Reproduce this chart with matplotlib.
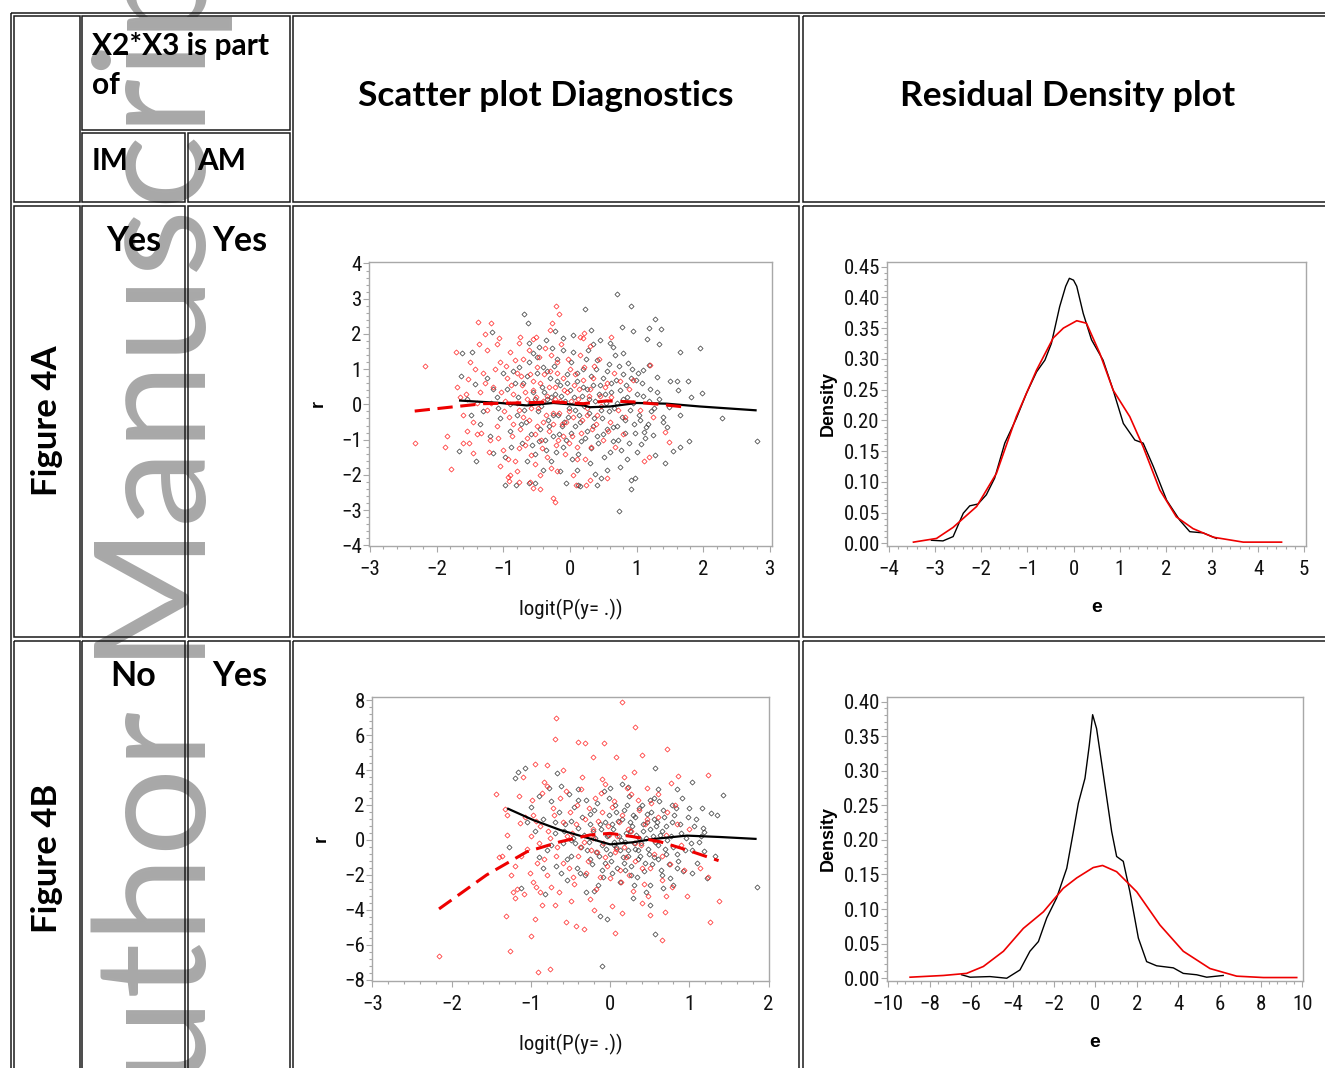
import matplotlib
matplotlib.use("Agg")
import matplotlib.pyplot as plt
import matplotlib.patches as patches
from matplotlib import font_manager
from matplotlib.ticker import AutoMinorLocator, FormatStrFormatter

# ---- table text ----
col_header = ["X2*X3 is part", "of"]
sub_headers = ["IM", "AM"]
panel_titles = ["Scatter plot Diagnostics", "Residual Density plot"]
row_labels = ["Figure 4A", "Figure 4B"]
im_answers = ["Yes", "No"]
am_answers = ["Yes", "Yes"]

# ---- Figure 4A scatter (logit vs r) ----
a_black_pts = [
    (0.70, 3.13), (0.91, 2.78), (0.23, 2.72), (-0.69, 2.56), (-0.63, 2.32), (1.27, 2.43), (1.36, 2.15),
    (1.19, 2.17), (0.78, 2.21), (0.95, 2.09), (1.95, 1.61), (1.65, 1.49), (1.34, 1.70), (1.15, 1.86),
    (-1.17, 2.06), (-1.47, 1.50), (-1.62, 1.47), (-1.64, 0.80), (-1.42, 0.57), (-1.67, -1.31), (-1.41, -1.60),
    (-1.16, -1.38), (-0.97, -2.30), (-0.81, -2.30), (-0.62, -2.24), (-0.53, -2.22), (-0.06, -2.24), (0.12, -2.30),
    (0.15, -2.31), (0.37, -1.98), (0.41, -2.30), (0.47, -2.08), (0.75, -1.77), (0.92, -2.15), (0.91, -2.41),
    (0.97, -2.10), (0.73, -3.03), (1.27, -1.45), (1.43, -1.66), (1.54, -1.31), (1.65, -1.22), (1.78, -1.03),
    (1.65, -0.30), (1.82, 0.21), (1.98, 0.33), (2.28, -0.39), (2.80, -1.03), (1.62, 0.42), (1.50, 0.66),
    (1.61, 0.66), (1.77, 0.66), (1.49, -0.08), (1.39, -0.50), (1.46, -0.63), (1.25, -0.87), (1.17, -0.55),
    (1.11, -0.77), (1.06, -1.12), (1.00, -1.36), (1.10, 0.97), (1.19, 1.11), (1.30, 0.78), (0.99, 0.69),
    (0.87, 1.18), (0.80, 1.45), (0.65, 1.64), (0.45, 1.83), (0.32, 2.11), (0.05, 1.97), (-0.11, 1.88),
    (-0.22, 2.07), (-0.36, 1.83), (-0.46, 1.64), (-0.61, 1.75),
    (-0.95, 0.45), (-0.90, -0.75), (-0.85, 0.95), (-0.80, -0.30), (-0.78, 0.20), (-0.72, -1.10), (-0.70, 0.60),
    (-0.66, -0.50), (-0.62, 1.20), (-0.60, 0.05), (-0.58, -0.85), (-0.55, 0.35), (-0.52, -1.40), (-0.50, 0.90),
    (-0.48, -0.20), (-0.45, -0.70), (-0.42, 0.50), (-0.40, 1.05), (-0.38, -1.00), (-0.35, 0.15), (-0.33, -0.45),
    (-0.30, 0.75), (-0.28, -1.60), (-0.25, -0.90), (-0.22, 0.30), (-0.20, 1.30), (-0.18, -0.30), (-0.15, 0.55),
    (-0.12, -0.60), (-0.10, -1.20), (-0.08, 0.10), (-0.05, 0.85), (-0.03, -0.35), (0.00, 0.40), (0.02, -0.80),
    (0.05, 1.50), (0.07, -0.15), (0.10, 0.65), (0.12, -1.40), (0.15, -0.50), (0.18, 0.25), (0.20, 1.00),
    (0.22, -0.95), (0.25, 0.45), (0.28, -0.25), (0.30, -1.65), (0.32, 0.80), (0.35, -0.60), (0.38, 0.10),
    (0.40, 1.25), (0.42, -1.10), (0.45, 0.55), (0.48, -0.40), (0.50, -0.85), (0.52, 0.30), (0.55, 0.95),
    (0.58, -0.20), (0.60, -1.35), (0.62, 0.60), (0.65, -0.65), (0.68, 1.40), (0.70, 0.05), (0.72, -1.00),
    (0.75, 0.40), (0.78, -0.35), (0.80, 0.85), (0.83, -0.80), (0.86, 0.20), (0.90, -0.15), (0.93, 1.00),
    (0.96, -0.55), (1.00, 0.30), (1.04, -0.30), (1.08, 0.60), (1.12, -0.95), (1.18, 0.10), (1.22, -0.20),
    (1.30, 0.35), (-1.05, -0.40), (-1.10, 0.20), (-1.20, -0.90), (-1.25, 0.75), (-1.30, -0.20), (-1.55, 0.15),
    (-0.15, -1.90), (0.35, 1.70), (0.60, 1.75), (-0.40, -1.85), (0.85, -1.55), (-0.65, -1.60),
    (-0.90, 0.00), (-0.88, -1.20), (-0.83, 0.60), (-0.76, 1.05), (-0.74, -0.55), (-0.69, -0.15), (-0.64, 0.80),
    (-0.57, -1.15), (-0.53, 0.15), (-0.49, 1.35), (-0.46, -1.05), (-0.43, -0.05), (-0.39, 0.35), (-0.36, -1.30),
    (-0.34, 0.95), (-0.31, -0.60), (-0.29, 0.20), (-0.26, -0.30), (-0.24, 1.10), (-0.21, -1.35), (-0.19, 0.65),
    (-0.16, -0.85), (-0.13, 0.25), (-0.11, 1.55), (-0.09, -0.50), (-0.06, -1.00), (-0.04, 0.60), (-0.01, -0.10),
    (0.01, 1.20), (0.03, -1.55), (0.06, 0.20), (0.08, -0.60), (0.11, 0.90), (0.13, -0.30), (0.16, -1.05),
    (0.19, 0.50), (0.21, -0.05), (0.24, 1.30), (0.26, -0.75), (0.29, 0.15), (0.31, -1.25), (0.34, 0.55),
    (0.36, -0.40), (0.39, 1.00), (0.41, -0.90), (0.44, 0.30), (0.46, -0.15), (0.49, 0.75), (0.51, -1.50),
    (0.54, 0.05), (0.56, -0.70), (0.59, 1.15), (0.61, 0.35), (0.64, -1.05), (0.66, -0.10), (0.69, 0.70),
    (0.71, -0.60), (0.74, 1.10), (0.76, -1.30), (0.79, 0.15), (0.82, -0.45), (0.84, 0.55), (0.88, -1.10),
    (0.92, 0.75), (0.95, 0.05), (0.98, -0.80), (1.02, 0.90), (1.05, -0.45), (1.10, 0.25), (1.14, -0.65),
    (1.20, 0.45), (1.26, -0.10), (1.33, 0.15), (1.40, -0.35), (-1.00, 0.90), (-1.08, -0.10), (-1.15, 0.45),
    (-0.97, -1.50), (-1.35, -0.55), (-1.48, -0.30), (0.27, 1.55), (-0.27, 1.60), (0.10, -1.85), (0.55, -1.85),
    (-0.55, 1.45),
]
a_red_pts = [
    (-2.17, 1.10), (-2.33, -1.10), (-1.87, -1.22), (-1.79, -1.84), (-1.85, -0.89), (-1.71, 1.50), (-1.38, 2.33),
    (-1.19, 2.30), (-1.06, 1.88), (-1.36, 1.70), (-1.53, 0.73), (-1.56, 0.30), (-1.61, -1.10), (-1.51, -1.10),
    (-1.46, -1.39), (-1.39, -0.84), (-0.93, -2.06), (-0.91, -2.17), (-0.76, -2.20), (-0.56, -2.36), (-0.45, -2.39),
    (-0.25, -2.65), (-0.22, -2.76), (-0.21, 2.80), (-0.16, 2.56), (-0.27, 2.32), (-0.51, 1.92), (-0.76, 1.75),
    (0.20, 1.88), (0.21, 2.02), (0.62, 1.92), (0.30, -2.15), (0.24, -2.30), (0.09, -2.30), (0.56, -2.08),
    (1.11, -1.60), (1.19, -1.50), (1.49, -1.06), (1.42, -0.77), (1.20, 1.13), (0.95, 0.69), (1.05, -0.17),
    (1.25, -0.36),
    (-1.15, 0.50), (-1.10, -0.60), (-1.05, 1.20), (-1.00, -1.30), (-0.98, 0.10), (-0.95, 0.75), (-0.92, -0.35),
    (-0.90, 1.50), (-0.87, -0.90), (-0.85, 0.30), (-0.82, -1.60), (-0.80, 0.90), (-0.77, -0.15), (-0.75, -0.70),
    (-0.72, 0.55), (-0.70, 1.30), (-0.68, -1.15), (-0.65, 0.15), (-0.62, -0.45), (-0.60, 0.85), (-0.58, -1.45),
    (-0.55, 0.40), (-0.52, -0.85), (-0.50, 1.05), (-0.48, -0.10), (-0.45, 0.60), (-0.42, -1.25), (-0.40, -0.50),
    (-0.38, 1.60), (-0.35, 0.25), (-0.32, -0.75), (-0.30, 0.95), (-0.28, -1.80), (-0.25, -0.25), (-0.22, 0.50),
    (-0.20, 1.20), (-0.18, -1.00), (-0.15, 0.10), (-0.12, -0.55), (-0.10, 0.75), (-0.08, -1.40), (-0.05, 0.35),
    (-0.02, -0.20), (0.00, 1.00), (0.03, -0.90), (0.06, 0.55), (0.10, -1.20), (0.12, 0.15), (0.15, 1.40),
    (0.18, -0.45), (0.20, 0.70), (0.23, -1.55), (0.26, -0.10), (0.30, 0.45), (0.33, -0.70), (0.36, 1.10),
    (0.40, -0.30), (0.45, 0.25), (0.50, -1.00), (0.55, 0.60), (0.60, -0.50), (0.66, 0.90), (0.72, -0.15),
    (0.80, -0.85), (0.88, 0.45), (-1.25, -0.15), (-1.30, 0.90), (-1.20, -1.00), (-1.35, 0.35), (-1.45, -0.50),
    (-1.50, 1.20), (-1.60, -0.30), (-1.70, 0.50), (-1.25, 1.55), (-0.90, -2.00), (-0.60, -2.20), (-0.30, 2.10),
    (0.05, -2.00), (-1.05, -1.75), (-0.75, 1.90), (0.30, 1.65),
    (-1.18, 0.05), (-1.12, 1.00), (-1.08, -0.95), (-1.03, 0.35), (-0.99, -0.20), (-0.96, 1.10), (-0.93, -1.55),
    (-0.89, 0.55), (-0.86, -0.55), (-0.83, 1.25), (-0.79, 0.05), (-0.76, -1.25), (-0.73, 0.80), (-0.71, -0.35),
    (-0.67, 0.35), (-0.64, -0.95), (-0.61, 1.55), (-0.59, -0.10), (-0.56, 0.65), (-0.53, -1.70), (-0.51, 0.20),
    (-0.49, -0.60), (-0.46, 1.35), (-0.44, -1.00), (-0.41, 0.10), (-0.39, 0.85), (-0.36, -0.30), (-0.34, -1.50),
    (-0.31, 0.50), (-0.29, 1.40), (-0.26, -0.55), (-0.23, 0.15), (-0.21, -1.15), (-0.19, 0.90), (-0.16, -0.25),
    (-0.14, 1.70), (-0.11, -0.90), (-0.09, 0.40), (-0.06, -0.50), (-0.03, 1.30), (-0.01, -1.10), (0.02, 0.10),
    (0.05, -0.35), (0.08, 0.85), (0.11, -1.55), (0.14, 0.45), (0.17, -0.80), (0.21, 1.05), (0.25, -0.30),
    (0.28, 0.25), (0.32, -1.20), (0.35, 0.75), (0.39, -0.55), (0.43, 1.30), (0.47, -0.05), (0.52, 0.50),
    (0.57, -0.75), (0.62, 0.20), (0.68, -1.20), (0.75, 0.65), (0.83, -0.35), (-1.28, 0.60), (-1.33, -0.80),
    (-1.40, 0.05), (-1.42, 1.00), (-1.55, -0.75), (-1.65, 0.20), (-1.22, -1.35), (-1.10, 1.70), (-0.80, -1.90),
    (-0.55, 1.85), (-0.20, -1.90), (0.15, 1.90), (-1.28, 2.00), (-0.45, -2.00),
]
a_black_fit_x = [-1.665, -1.05, -0.65, -0.25, 0.20, 0.30, 0.60, 1.00, 1.45, 1.95, 2.80]
a_black_fit_y = [0.11, 0.04, -0.03, 0.04, -0.03, -0.08, -0.06, 0.04, 0.02, -0.06, -0.17]
a_red_fit_x = [-2.33, -1.80, -1.30, -0.80, -0.25, 0.20, 0.55, 0.95, 1.35, 1.75]
a_red_fit_y = [-0.19, -0.08, 0.02, 0.04, 0.07, 0.02, 0.10, 0.07, 0.00, -0.08]

# ---- Figure 4A residual density ----
a_dens_black_e = [-3.08, -2.83, -2.61, -2.39, -2.25, -2.07, -1.89, -1.71, -1.49, -1.24, -1.02, -0.80,
                  -0.62, -0.48, -0.30, -0.17, -0.09, 0.00, 0.07, 0.21, 0.39, 0.64, 0.86, 1.08, 1.33, 1.51,
                  1.73, 2.02, 2.30, 2.52, 2.81, 3.10]
a_dens_black_d = [0.005, 0.004, 0.011, 0.049, 0.061, 0.064, 0.079, 0.106, 0.163, 0.203, 0.244, 0.279,
                  0.298, 0.325, 0.385, 0.418, 0.431, 0.428, 0.418, 0.374, 0.331, 0.298, 0.249, 0.195, 0.168,
                  0.163, 0.125, 0.070, 0.038, 0.019, 0.017, 0.008]
a_dens_red_e = [-3.47, -2.97, -2.61, -2.10, -1.67, -1.24, -0.80, -0.44, -0.22, 0.07, 0.28, 0.57, 0.86,
                1.22, 1.51, 1.87, 2.23, 2.59, 3.03, 3.68, 4.51]
a_dens_red_d = [0.002, 0.008, 0.026, 0.060, 0.114, 0.206, 0.282, 0.334, 0.350, 0.362, 0.358, 0.309, 0.249,
                0.206, 0.157, 0.087, 0.043, 0.024, 0.010, 0.002, 0.002]

# ---- Figure 4B scatter ----
b_black_pts = [
    (-1.20, 3.52), (-1.16, 3.87), (-1.08, 4.13), (-1.28, -0.42), (-1.12, -2.76), (-0.82, -3.10), (-1.05, 1.05),
    (-0.67, 3.85), (-0.77, 2.99), (-0.10, -7.20), (-0.04, -4.53), (-0.13, -4.34), (0.57, -5.39), (0.57, 4.10),
    (0.23, 3.05), (1.04, 3.33), (1.42, 2.57), (1.28, 1.52), (1.35, 1.43), (1.16, 1.81), (1.19, 0.48),
    (1.19, -0.61), (1.33, -0.90), (1.22, -2.19), (1.04, -1.90), (0.84, -1.62), (1.85, -2.67), (0.67, -2.76),
    (0.51, -3.71), (0.29, -3.33), (0.19, -1.71), (0.91, 2.38), (0.78, 2.00), (0.51, 2.29),
    (-0.85, 1.2), (-0.8, -0.6), (-0.75, 2.2), (-0.7, 0.4), (-0.68, -1.5), (-0.65, 1.6), (-0.6, -0.2),
    (-0.57, 0.9), (-0.55, -2.3), (-0.52, 2.6), (-0.5, -0.9), (-0.47, 0.1), (-0.45, 1.9), (-0.42, -1.6),
    (-0.4, 0.7), (-0.37, -0.4), (-0.35, 1.3), (-0.32, -2.0), (-0.3, 2.3), (-0.27, -0.1), (-0.25, -1.1),
    (-0.22, 0.5), (-0.2, 1.7), (-0.18, -0.7), (-0.15, -2.6), (-0.13, 0.9), (-0.1, -0.3), (-0.08, 2.8),
    (-0.06, -1.3), (-0.04, 0.2), (-0.02, 1.4), (0.0, -0.8), (0.02, -1.9), (0.04, 0.6), (0.06, 2.0),
    (0.08, -0.4), (0.1, 1.1), (0.12, -2.4), (0.14, 0.0), (0.16, -1.0), (0.18, 1.7), (0.2, 0.4),
    (0.22, -0.6), (0.24, 2.5), (0.26, -1.5), (0.28, 0.8), (0.3, -0.2), (0.32, 1.3), (0.34, -2.1),
    (0.36, 0.1), (0.38, -0.9), (0.4, 2.0), (0.42, 0.5), (0.44, -1.3), (0.46, 1.0), (0.48, -0.5),
    (0.5, -2.6), (0.52, 1.6), (0.54, 0.2), (0.56, -1.0), (0.58, 0.8), (0.6, -0.3), (0.62, 2.2),
    (0.64, -1.7), (0.66, 0.5), (0.68, 1.3), (0.7, -0.8), (0.72, 0.0), (0.75, -2.2), (0.78, 1.0),
    (0.8, -0.4), (0.83, 1.8), (0.86, -1.2), (0.9, 0.4), (0.94, -0.6), (0.98, 1.3), (1.02, -0.2),
    (1.06, 0.8), (1.1, -1.3), (1.15, 0.2), (-0.95, 0.5), (-0.9, -1.0), (-1.0, 1.9), (-0.62, 3.1),
    (-0.3, -3.0), (0.15, 3.2), (0.45, -3.0), (0.85, 2.9), (-0.5, 0.0), (0.05, -0.1), (0.35, -0.6),
    (-0.25, 0.9), (0.25, 1.0), (0.55, 1.2), (-0.1, -1.7),
    (-0.58, 0.5), (-0.54, -1.1), (-0.49, 1.1), (-0.44, -0.2), (-0.41, 2.3), (-0.38, -1.9), (-0.33, 0.3),
    (-0.29, -0.6), (-0.26, 1.5), (-0.23, -1.4), (-0.19, 0.1), (-0.16, 2.1), (-0.14, -0.9), (-0.11, 0.6),
    (-0.09, -2.1), (-0.07, 1.0), (-0.05, -0.5), (-0.03, 0.3), (-0.01, 2.4), (0.01, -1.2), (0.03, 0.9),
    (0.05, -0.3), (0.07, 1.6), (0.09, -1.6), (0.11, 0.2), (0.13, -0.6), (0.15, 1.2), (0.17, -1.3),
    (0.19, -0.1), (0.21, 2.0), (0.23, -0.9), (0.25, 0.5), (0.27, -2.0), (0.29, 1.4), (0.31, -0.5),
    (0.33, 0.3), (0.35, -1.1), (0.37, 1.8), (0.39, -0.2), (0.41, 0.9), (0.43, -1.8), (0.45, 0.1),
    (0.47, 1.5), (0.49, -0.8), (0.51, 0.6), (0.53, -1.4), (0.55, 2.4), (0.57, -0.1), (0.59, 1.0),
    (0.61, -1.1), (0.63, 0.3), (0.65, -2.0), (0.67, 1.7), (0.69, -0.5), (0.71, 0.8), (0.74, -1.4),
    (0.77, 0.2), (0.81, 1.4), (0.85, -0.8), (0.88, 0.9), (0.92, -1.8), (0.96, 0.1), (1.0, 1.8),
    (1.04, -0.6), (1.08, 1.2), (1.12, -0.1), (1.17, 0.7), (-0.62, -1.9), (-0.7, 1.0), (-0.75, -0.3),
    (-0.9, 2.5), (-0.85, -1.6), (-0.4, 2.9), (0.3, -2.6), (0.6, 2.9), (0.0, 3.0), (-0.2, -2.9), (0.8, -2.6),
]
b_red_pts = [
    (0.15, 7.90), (-0.68, 6.95), (0.31, 6.48), (-0.70, 5.75), (-0.41, 5.62), (-0.32, 5.56), (-0.08, 5.52),
    (0.72, 5.18), (-0.95, 4.34), (-0.80, 4.29), (0.40, 4.86), (0.08, 4.76), (-0.21, 4.76), (1.24, 3.71),
    (0.86, 3.68), (-1.44, 2.63), (-1.33, 1.77), (-1.36, -0.90), (-1.31, -4.32), (-1.27, -6.34), (-2.16, -6.61),
    (-1.00, -5.47), (-0.91, -7.52), (-0.76, -7.39), (-0.56, -4.70), (-0.43, -4.90), (-0.33, -5.10), (0.06, -5.30),
    (0.15, -4.19), (0.65, -5.71), (0.69, -4.10), (0.97, -3.18), (1.26, -4.70), (1.37, -3.49), (1.24, -2.13),
    (1.14, -1.58), (-1.22, -2.99), (-1.20, -3.30), (-1.09, -3.10), (-0.93, -2.67), (-0.89, -2.95), (-0.86, -3.71),
    (-0.70, -3.71), (-1.01, -1.90), (-1.14, 0.95), (-0.97, 1.43), (0.46, 2.95), (0.77, 3.24),
    (-1.05, -0.5), (-0.98, 2.3), (-0.92, -1.3), (-0.88, 0.8), (-0.84, 3.3), (-0.8, -2.0), (-0.76, 0.1),
    (-0.72, 1.8), (-0.68, -0.9), (-0.64, -3.0), (-0.6, 1.0), (-0.56, 2.8), (-0.52, -1.6), (-0.48, 0.4),
    (-0.45, -2.5), (-0.42, 2.0), (-0.38, -0.4), (-0.35, 3.6), (-0.32, 1.2), (-0.28, -1.2), (-0.25, -3.4),
    (-0.22, 0.6), (-0.19, 2.4), (-0.16, -0.7), (-0.13, -2.1), (-0.1, 1.6), (-0.07, 3.2), (-0.04, -1.5),
    (-0.01, 0.3), (0.02, -3.8), (0.05, 2.2), (0.08, -0.5), (0.11, 1.0), (0.14, -2.4), (0.17, 3.6),
    (0.2, -1.0), (0.23, 0.6), (0.26, 2.6), (0.29, -2.9), (0.32, -0.2), (0.36, 1.7), (0.4, -1.6),
    (0.44, 0.9), (0.48, -3.2), (0.52, 2.1), (0.56, -0.8), (0.6, 1.3), (0.65, -2.3), (0.7, 0.3),
    (0.76, -1.4), (0.82, 2.0), (0.9, -0.3), (-1.3, 0.3), (-1.2, -1.5), (-1.15, 2.5), (-1.25, -2.0),
    (-0.6, 4.0), (-0.2, -4.0), (0.3, 3.9), (0.5, -4.3), (-1.1, 3.6), (-0.95, -4.5),
    (-1.0, 0.2), (-0.97, -2.4), (-0.93, 1.1), (-0.9, -0.2), (-0.86, 2.7), (-0.83, -1.1), (-0.79, 0.5),
    (-0.75, -2.7), (-0.71, 1.4), (-0.67, -0.4), (-0.63, 2.4), (-0.59, -1.3), (-0.55, 0.2), (-0.51, 1.6),
    (-0.47, -2.1), (-0.43, 0.9), (-0.4, -0.9), (-0.37, 2.9), (-0.33, -0.1), (-0.3, -1.9), (-0.27, 1.8),
    (-0.24, -0.6), (-0.21, 0.1), (-0.18, -2.8), (-0.15, 1.1), (-0.12, 2.7), (-0.09, -0.2), (-0.06, -1.0),
    (-0.03, 0.8), (0.0, -2.2), (0.03, 1.9), (0.06, -0.7), (0.09, 0.2), (0.12, -1.7), (0.15, 1.4),
    (0.18, -0.4), (0.21, 3.0), (0.24, -2.0), (0.27, 0.5), (0.31, -1.2), (0.35, 2.3), (0.39, -0.3),
    (0.43, -2.5), (0.47, 1.2), (0.51, -1.6), (0.55, 0.0), (0.6, 2.6), (0.66, -0.9), (0.72, 1.6),
    (0.78, -2.7), (0.85, 0.9), (0.93, -1.7), (1.0, 0.6), (-1.08, 1.3), (-1.12, -0.9), (-1.18, -2.8),
    (-1.4, -1.0), (-1.3, 1.4), (-0.5, -3.5), (-0.1, 3.5), (0.4, -3.6), (-0.8, 3.1), (0.7, -3.2),
]
b_black_fit_x = [-1.30, -0.97, -0.63, -0.34, 0.00, 0.29, 0.55, 0.97, 1.39, 1.85]
b_black_fit_y = [1.81, 1.14, 0.57, 0.19, -0.25, -0.13, 0.06, 0.25, 0.17, 0.06]
b_red_fit_x = [-2.16, -1.56, -1.05, -0.63, -0.25, 0.00, 0.29, 0.63, 0.97, 1.37]
b_red_fit_y = [-3.94, -2.00, -0.67, -0.10, 0.29, 0.38, 0.19, -0.10, -0.57, -1.18]

# ---- Figure 4B residual density ----
b_dens_black_e = [-6.46, -6.05, -5.09, -4.28, -3.64, -3.16, -2.75, -2.35, -1.87, -1.38, -1.06, -0.82,
                  -0.50, -0.29, -0.13, 0.06, 0.39, 0.79, 1.03, 1.35, 1.67, 2.08, 2.48, 2.96, 3.77, 4.25,
                  4.90, 5.38, 6.18]
b_dens_black_d = [0.005, 0.0015, 0.0024, 0.000, 0.012, 0.039, 0.053, 0.087, 0.116, 0.159, 0.212, 0.253,
                  0.289, 0.337, 0.381, 0.361, 0.294, 0.212, 0.176, 0.169, 0.125, 0.058, 0.024, 0.018, 0.015,
                  0.007, 0.005, 0.0015, 0.004]
b_dens_red_e = [-8.95, -7.34, -6.22, -5.41, -4.44, -3.48, -2.51, -1.55, -0.90, -0.10, 0.35, 1.03, 2.00,
                3.12, 4.25, 5.54, 6.83, 8.12, 9.73]
b_dens_red_d = [0.0015, 0.004, 0.007, 0.017, 0.039, 0.072, 0.096, 0.130, 0.145, 0.160, 0.163, 0.154, 0.125,
                0.077, 0.039, 0.014, 0.003, 0.001, 0.001]

W, H = 1325, 1068
fig = plt.figure(figsize=(W / 100, H / 100), dpi=100)
fig.patch.set_facecolor("white")

# pick a condensed face for the SAS-like tick labels if one is there
installed = {f.name for f in font_manager.fontManager.ttflist}
narrow = [n for n in ["Liberation Sans Narrow", "DejaVu Sans Condensed", "Roboto Condensed"] if n in installed]
tick_font = narrow[:1] + ["Liberation Sans", "DejaVu Sans"]

# background axes in pixel units for the table
bg = fig.add_axes([0, 0, 1, 1], zorder=0)
bg.set_xlim(0, W)
bg.set_ylim(H, 0)
bg.axis("off")

# watermark
bg.text(206, 1190, "Author Manuscript", rotation=90, rotation_mode="anchor", ha="left", va="baseline",
        fontsize=112, family="Lato", fontweight="normal", color="#a8a8a8", zorder=1)

# cell borders (each cell has its own frame -> double lines)
cells = [
    (13.5, 16, 79.5, 202), (82, 16, 290, 129.5), (82, 132.5, 184.5, 202), (187.5, 132.5, 290, 202),
    (292.7, 16, 798.5, 202), (802.5, 16, 1340, 202),
]
for top, bot in [(205.8, 636.5), (640.5, 1090)]:
    cells += [(13.5, top, 79.5, bot), (82, top, 184.5, bot), (187.5, top, 290, bot),
              (292.7, top, 798.5, bot), (802.5, top, 1340, bot)]
for x0, y0, x1, y1 in cells:
    bg.add_patch(patches.Rectangle((x0, y0), x1 - x0, y1 - y0, fill=False, edgecolor="#1a1a1a",
                                   linewidth=1.1, zorder=2))
bg.add_patch(patches.Rectangle((10.7, 13), 1340, 1090, fill=False, edgecolor="#1a1a1a", linewidth=1.1, zorder=2))

tfont = dict(family="Lato", fontweight="bold", color="black", zorder=3)
bg.text(92, 46, col_header[0], fontsize=21.5, ha="left", va="center", **tfont)
bg.text(92, 85, col_header[1], fontsize=21.5, ha="left", va="center", **tfont)
bg.text(92, 161, sub_headers[0], fontsize=21.5, ha="left", va="center", **tfont)
bg.text(197, 161, sub_headers[1], fontsize=21.5, ha="left", va="center", **tfont)
bg.text(546, 96, panel_titles[0], fontsize=25.5, ha="center", va="center", **tfont)
bg.text(1068, 96, panel_titles[1], fontsize=25.5, ha="center", va="center", **tfont)
for i, (rc, base) in enumerate([(421, 251), (858, 686)]):
    bg.text(47, rc, row_labels[i], fontsize=25, rotation=90, ha="center", va="center", **tfont)
    bg.text(133.5, base, im_answers[i], fontsize=24.5, ha="center", va="baseline", **tfont)
    bg.text(239.5, base, am_answers[i], fontsize=24.5, ha="center", va="baseline", **tfont)

frame_col = "#a8a8a8"
label_font = ["Liberation Sans", "DejaVu Sans"]


def style_axes(ax, xt, yt, yfmt=None):
    for s in ax.spines.values():
        s.set_color(frame_col)
        s.set_linewidth(1.0)
    ax.set_xticks(xt)
    ax.set_yticks(yt)
    if yfmt:
        ax.yaxis.set_major_formatter(FormatStrFormatter(yfmt))
    ax.xaxis.set_minor_locator(AutoMinorLocator(5))
    ax.yaxis.set_minor_locator(AutoMinorLocator(5))
    ax.tick_params(which="both", direction="out", color=frame_col, width=0.8)
    ax.tick_params(axis="y", which="major", length=4, pad=1, labelsize=15)
    ax.tick_params(axis="x", which="major", length=4, pad=6, labelsize=15)
    ax.tick_params(which="minor", length=2)
    for lab in ax.get_xticklabels() + ax.get_yticklabels():
        lab.set_family(tick_font)
        lab.set_color("#111111")


def px_rect(x0, y0, x1, y1):
    return [x0 / W, 1 - y1 / H, (x1 - x0) / W, (y1 - y0) / H]


def scatter_panel(rect, bpts, rpts, bfx, bfy, rfx, rfy, xlim, ylim, xt, yt):
    ax = fig.add_axes(rect, zorder=5)
    ax.plot([p[0] for p in bpts], [p[1] for p in bpts], ls="none", marker="D", ms=2.6,
            mfc="none", mec="#333333", mew=0.5)
    ax.plot([p[0] for p in rpts], [p[1] for p in rpts], ls="none", marker="D", ms=2.6,
            mfc="none", mec="#ff2020", mew=0.5)
    ax.plot(bfx, bfy, color="black", lw=1.6, solid_capstyle="butt")
    ax.plot(rfx, rfy, color="#ee0000", lw=2.2, dashes=(5, 2.5))
    ax.set_xlim(xlim)
    ax.set_ylim(ylim)
    style_axes(ax, xt, yt)
    ax.set_xlabel("logit(P(y= .))", fontsize=15, family=tick_font, color="#111111")
    ax.xaxis.set_label_coords(0.5, -0.185)
    ax.set_ylabel("r", fontsize=13, fontweight="bold", family=label_font)
    ax.yaxis.set_label_coords(-0.105, 0.5)
    return ax


def density_panel(rect, be, bd, re_, rd, xlim, ylim, xt, yt):
    ax = fig.add_axes(rect, zorder=5)
    ax.plot(be, bd, color="black", lw=1.0)
    ax.plot(re_, rd, color="#ee0000", lw=1.2)
    ax.set_xlim(xlim)
    ax.set_ylim(ylim)
    style_axes(ax, xt, yt, "%.2f")
    ax.set_xlabel("e", fontsize=14, fontweight="bold", family=label_font)
    ax.xaxis.set_label_coords(0.5, -0.185)
    ax.set_ylabel("Density", fontsize=13, fontweight="bold", family=label_font)
    ax.yaxis.set_label_coords(-0.12, 0.5)
    return ax


scatter_panel(px_rect(368.7, 261.7, 772, 546), a_black_pts, a_red_pts, a_black_fit_x, a_black_fit_y,
              a_red_fit_x, a_red_fit_y, (-3.02, 3.03), (-4.02, 4.05), range(-3, 4), range(-4, 5))
density_panel(px_rect(886.7, 261.7, 1306, 546), a_dens_black_e, a_dens_black_d, a_dens_red_e, a_dens_red_d,
              (-4.05, 5.04), (-0.0043, 0.458), range(-4, 6), [i * 0.05 for i in range(10)])
scatter_panel(px_rect(371.7, 696.7, 769.3, 981), b_black_pts, b_red_pts, b_black_fit_x, b_black_fit_y,
              b_red_fit_x, b_red_fit_y, (-3.01, 2.01), (-8.06, 8.19), range(-3, 3), range(-8, 9, 2))
density_panel(px_rect(886.7, 696.7, 1302.7, 981), b_dens_black_e, b_dens_black_d, b_dens_red_e, b_dens_red_d,
              (-10.08, 10.02), (-0.004, 0.407), range(-10, 11, 2), [i * 0.05 for i in range(9)])

fig.savefig("out.png", dpi=100, facecolor="white")
